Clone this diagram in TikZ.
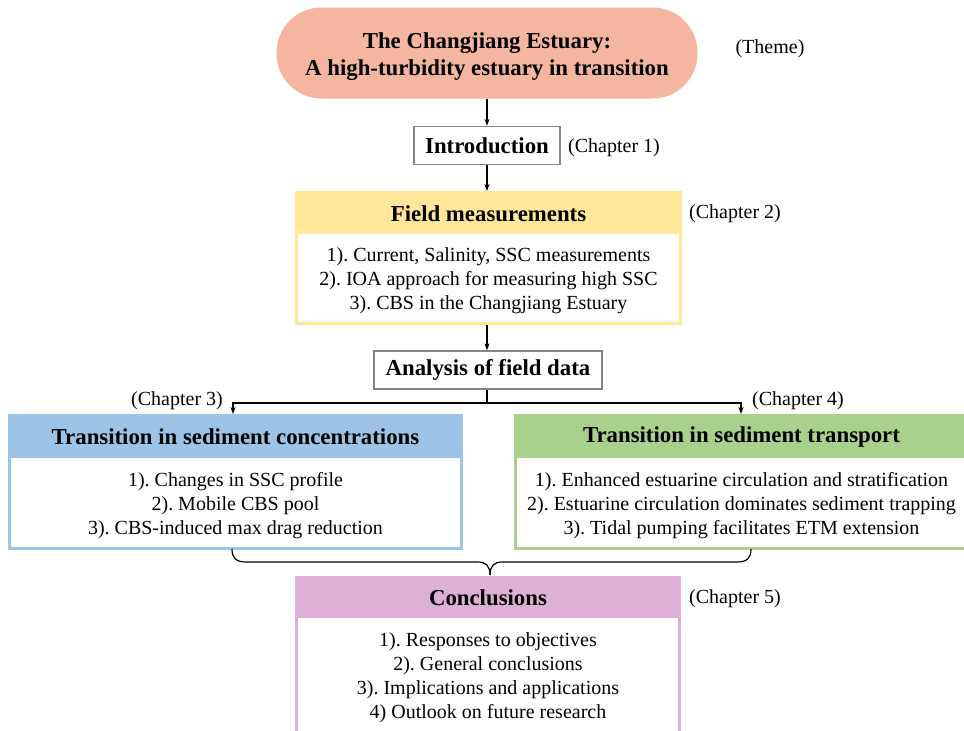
\documentclass[tikz,border=0pt]{standalone}
\usepackage{fontspec}
\setmainfont{Liberation Serif}
\usetikzlibrary{arrows.meta}
\definecolor{themec}{HTML}{F4B6A0}
\definecolor{yelc}{HTML}{FFE699}
\definecolor{bluec}{HTML}{9DC3E6}
\definecolor{greenc}{HTML}{A9D18E}
\definecolor{pinkc}{HTML}{DEB0D6}
\definecolor{grayb}{HTML}{858585}
\frenchspacing
\begin{document}
\begin{tikzpicture}[x=1pt,y=-1pt,
  hfont/.style={font=\fontsize{22.8}{27}\selectfont\bfseries},
  bfont/.style={font=\fontsize{20}{24}\selectfont},
  outerbox/.style={draw=none, inner sep=0pt, anchor=north west, rectangle},
  innerbox/.style={fill=white, draw=none, inner sep=0pt, anchor=north west, rectangle},
  plainbox/.style={draw=grayb, line width=1.3pt, fill=white, inner sep=0pt, hfont},
  arr/.style={-{Stealth[length=7pt,width=5pt]}, line width=1.2pt},
  lbl/.style={bfont, inner sep=0pt},
  items/.style={bfont, inner sep=0pt, align=center},
  head/.style={hfont, inner sep=0pt}]
\clip (0,0) rectangle (964,731);
\fill[white] (0,0) rectangle (964,731);

% Theme
\node[fill=themec, rounded corners=45pt, minimum width=421pt, minimum height=91pt,
      inner sep=0pt] (theme) at (487,53) {};
\node[align=center, hfont, inner sep=0pt] (themet) at (487,56.5)
      {The Changjiang Estuary:\\A high-turbidity estuary in transition};
\node[lbl] (themelbl) at (770,49) {(Theme)};

% Introduction
\node[plainbox, minimum width=146pt, minimum height=38pt] (intro) at (487,145.5) {Introduction};
\node[lbl] (ch1) at (614,148) {(Chapter 1)};

% Field measurements
\node[outerbox, fill=yelc, minimum width=387pt, minimum height=134pt] (field) at (295,191) {};
\node[innerbox, minimum width=381pt, minimum height=88pt] (fieldin) at (298,234) {};
\node[head] (fieldh) at (488.5,213.5) {Field measurements};
\node[items] (fieldt) at (488.5,281) {1). Current, Salinity, SSC measurements\\2). IOA approach for measuring high SSC\\3). CBS in the Changjiang Estuary};
\node[lbl] (ch2) at (735,214) {(Chapter 2)};

% Analysis
\node[plainbox, minimum width=228pt, minimum height=38pt] (analysis) at (488,370) {Analysis of field data};

% Blue box
\node[outerbox, fill=bluec, minimum width=455pt, minimum height=136pt] (blue) at (8,414) {};
\node[innerbox, minimum width=449pt, minimum height=89pt] (bluein) at (11,458) {};
\node[head] (blueh) at (235.5,437) {Transition in sediment concentrations};
\node[items] (bluet) at (235.5,505.5) {1). Changes in SSC profile\\2). Mobile CBS pool\\3). CBS-induced max drag reduction};
\node[lbl] (ch3) at (177,401) {(Chapter 3)};

% Green box
\node[outerbox, fill=greenc, minimum width=455pt, minimum height=136pt] (green) at (514,414) {};
\node[innerbox, minimum width=449pt, minimum height=89pt] (greenin) at (517,458) {};
\node[head] (greenh) at (741.5,437) {Transition in sediment transport};
\node[items] (greent) at (741.5,505.5) {1). Enhanced estuarine circulation and stratification\\2). Estuarine circulation dominates sediment trapping\\3). Tidal pumping facilitates ETM extension};
\node[lbl] (ch4) at (798,401) {(Chapter 4)};

% Conclusions
\node[outerbox, fill=pinkc, minimum width=386pt, minimum height=200pt] (concl) at (295,576) {};
\node[innerbox, minimum width=380pt, minimum height=200pt] (conclin) at (298,618) {};
\node[head] (conclh) at (488,597.5) {Conclusions};
\node[items] (conclt) at (488,678) {1). Responses to objectives\\2). General conclusions\\3). Implications and applications\\4) Outlook on future research};
\node[lbl] (ch5) at (735,599) {(Chapter 5)};

% Connectors
\draw[arr] (theme.south) -- (theme.south |- intro.north);
\draw[arr] (intro.south) -- (intro.south |- field.north);
\draw[arr] (intro.south |- field.south) -- (intro.south |- analysis.north);
\coordinate (split) at (487,403);
\coordinate (bluetop) at (233,414);
\coordinate (greentop) at (741,414);
\draw[line width=1.2pt] (analysis.south -| split) -- (split);
\draw[arr] (split) -| (bluetop);
\draw[arr] (split) -| (greentop);

% Brace
\coordinate (bl) at (232,549);
\coordinate (br) at (751,549);
\coordinate (bt) at (490,575);
\draw[line width=1.2pt]
  (bl) .. controls (232,558) and (236,562) .. (246,562) -- (478,562)
  .. controls (486,562) and (490,566) .. (bt);
\draw[line width=1.2pt]
  (bt) .. controls (490,566) and (494,562) .. (502,562) -- (737,562)
  .. controls (747,562) and (751,558) .. (br);
\end{tikzpicture}
\end{document}
